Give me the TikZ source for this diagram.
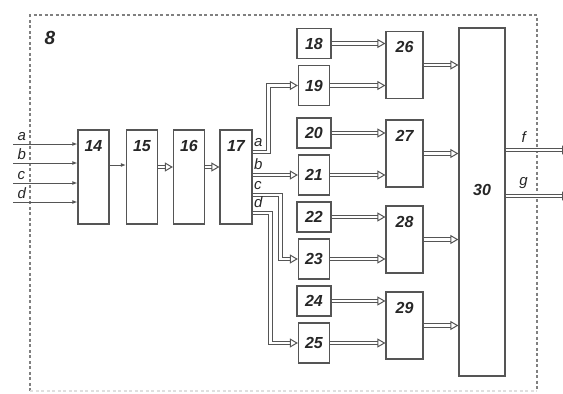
\documentclass[tikz,border=0pt]{standalone}
\usepackage{fontspec}
\setmainfont{Liberation Sans}
\usetikzlibrary{arrows.meta,positioning}
\definecolor{linegray}{HTML}{555555}

\begin{document}
\begin{tikzpicture}[x=1pt, y=-1pt, node distance=47pt, auto]
        \tikzstyle{block} = [rectangle, draw=linegray, line width=1.2pt, inner sep=0pt, text=black!85, font=\fontsize{16}{18}\selectfont\bfseries\itshape]
        \tikzstyle{tall} = [block, minimum width=31pt, inner ysep=10pt, text height=11pt, text depth=63pt]
        \tikzstyle{mid} = [block, minimum width=37pt, inner ysep=10pt, text height=11pt, text depth=36pt]
        \tikzstyle{small} = [block, minimum width=34pt, minimum height=30pt]
        \tikzstyle{pair} = [block, minimum width=31pt, minimum height=40pt]
        \tikzstyle{arrow} = [draw=linegray, line width=1pt, -{Latex[length=5pt,width=4pt]}]
        \tikzstyle{bus} = [draw=linegray, line width=1pt, double=white, double distance=2.6pt, -{Triangle[open,length=8pt,width=9pt]}]
        \tikzstyle{lbl} = [font=\fontsize{15}{17}\selectfont\itshape, text=black!85, inner sep=1pt]
        \tikzstyle{outlbl} = [lbl, above right, yshift=4pt]
        \tikzstyle{frame} = [draw=gray, line width=1.3pt, dash pattern=on 3pt off 2.5pt]

        \useasboundingbox (0,0) rectangle (563,394);

        % dashed outline of unit 8
        \draw[frame] (30,391) -- (30,15) -- (537,15) -- (537,391);
        \draw[frame, draw=gray!25] (30,391) -- (537,391);
        \node (unit8) at (50,38) [font=\fontsize{19}{21}\selectfont\bfseries\itshape, text=black!85] {8};

        % input chain
        \node (n14) [tall] at (93.5,177) {14};
        \node (n15) [tall, right of=n14, xshift=1.5pt] {15};
        \node (n16) [tall, right of=n15] {16};
        \node (n17) [tall, right of=n16, minimum width=32pt] {17};

        \coordinate (ina) at (13,144);
        \coordinate (inb) at (13,163);
        \coordinate (inc) at (13,183);
        \coordinate (ind) at (13,202);
        \draw[arrow] (ina) node[lbl, above right, xshift=3pt, yshift=2pt] {a} -- (ina -| n14.west);
        \draw[arrow] (inb) node[lbl, above right, xshift=3pt, yshift=2pt] {b} -- (inb -| n14.west);
        \draw[arrow] (inc) node[lbl, above right, xshift=3pt, yshift=2pt] {c} -- (inc -| n14.west);
        \draw[arrow] (ind) node[lbl, above right, xshift=3pt, yshift=2pt] {d} -- (ind -| n14.west);

        \draw[arrow] ([yshift=12pt]n14.east) -- ([yshift=12pt]n15.west);
        \draw[bus] ([yshift=10pt]n15.east) -- ([yshift=10pt]n16.west);
        \draw[bus] ([yshift=10pt]n16.east) -- ([yshift=10pt]n17.west);

        % first column
        \node (n18) [small] at (314,43.5) {18};
        \node (n19) [pair, node distance=42pt, below of=n18] {19};
        \node (n20) [small, node distance=42pt, below of=n19, yshift=-5.5pt] {20};
        \node (n21) [pair, node distance=42pt, below of=n20] {21};
        \node (n22) [small, node distance=42pt, below of=n21] {22};
        \node (n23) [pair, node distance=42pt, below of=n22] {23};
        \node (n24) [small, node distance=42pt, below of=n23] {24};
        \node (n25) [pair, node distance=42pt, below of=n24] {25};

        % outputs of 17
        \draw[bus] ([yshift=25pt]n17.east) node[outlbl] {a} -- ++(16,0) |- (n19.west);
        \draw[bus] (n21.west -| n17.east) node[outlbl] {b} -- (n21.west);
        \draw[bus] ([yshift=-18pt]n17.east) node[outlbl] {c} -- ++(28,0) |- (n23.west);
        \draw[bus] ([yshift=-36pt]n17.east) node[outlbl] {d} -- ++(18,0) |- (n25.west);

        % second column
        \node (n26) [mid] at (404.5,65) {26};
        \node (n27) [mid] at (404.5,153.5) {27};
        \node (n28) [mid] at (404.5,239.5) {28};
        \node (n29) [mid] at (404.5,325.5) {29};
        \node (n30) [block, minimum width=46pt, minimum height=348pt, text height=11pt, text depth=24pt] at (482,202) {30};

        \draw[bus] (n18.east) -- (n18.east -| n26.west);
        \draw[bus] (n19.east) -- (n19.east -| n26.west);
        \draw[bus] (n20.east) -- (n20.east -| n27.west);
        \draw[bus] (n21.east) -- (n21.east -| n27.west);
        \draw[bus] (n22.east) -- (n22.east -| n28.west);
        \draw[bus] (n23.east) -- (n23.east -| n28.west);
        \draw[bus] (n24.east) -- (n24.east -| n29.west);
        \draw[bus] (n25.east) -- (n25.east -| n29.west);

        \draw[bus] (n26.east) -- (n26.east -| n30.west);
        \draw[bus] (n27.east) -- (n27.east -| n30.west);
        \draw[bus] (n28.east) -- (n28.east -| n30.west);
        \draw[bus] (n29.east) -- (n29.east -| n30.west);

        % outputs of 30
        \coordinate (outf) at (570,150);
        \coordinate (outg) at (570,196);
        \draw[bus] (outf -| n30.east) -- node[lbl, above, pos=0.28, yshift=6pt] {f} (outf);
        \draw[bus] (outg -| n30.east) -- node[lbl, above, pos=0.28, yshift=6pt] {g} (outg);
    \end{tikzpicture}
\end{document}
